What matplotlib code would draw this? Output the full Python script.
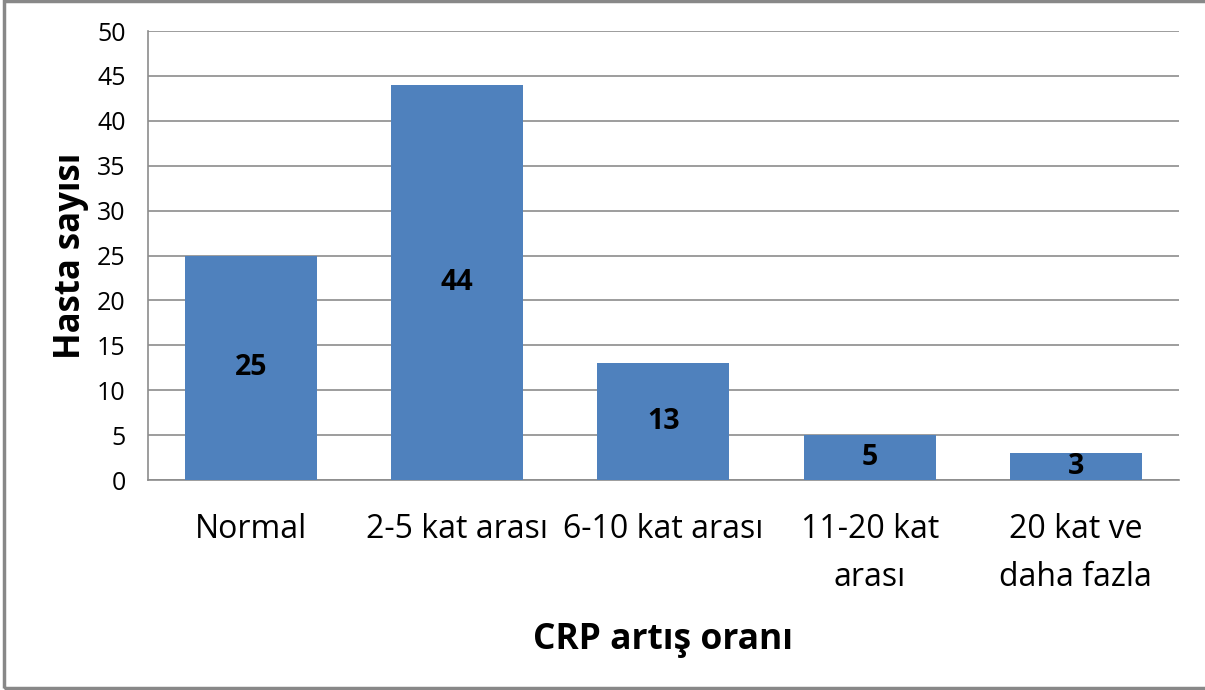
import matplotlib.pyplot as plt
from matplotlib.patches import Rectangle

# CRP artış oranı dağılımı
categories = ["Normal", "2-5 kat arası", "6-10 kat arası", "11-20 kat\narası", "20 kat ve\ndaha fazla"]
counts = [25, 44, 13, 5, 3]
yticks = [0, 5, 10, 15, 20, 25, 30, 35, 40, 45, 50]

plt.rcParams['font.family'] = ['Open Sans', 'DejaVu Sans']

fig = plt.figure(figsize=(12.05, 6.9), dpi=100)
ax = fig.add_axes([0.1228, 0.3043, 0.8556, 0.6507])

x = range(len(categories))
bars = ax.bar(x, counts, width=0.64, color='#4F81BD', zorder=3)

for b, v in zip(bars, counts):
    ax.text(b.get_x() + b.get_width() / 2, v / 2, str(v), ha='center', va='center',
            fontsize=20.5, fontweight='bold', color='black', zorder=4)

ax.set_xlim(-0.5, len(categories) - 0.5)
ax.set_ylim(0, 50)
ax.set_yticks(yticks)
ax.set_yticklabels([str(t) for t in yticks], fontsize=18)
ax.set_xticks(list(x))
ax.set_xticklabels(categories, fontsize=23, linespacing=1.6, va='top')
ax.tick_params(axis='x', length=0, pad=24)
ax.tick_params(axis='y', length=0, pad=16)

ax.yaxis.grid(True, color='#8c8c8c', linewidth=1.2, zorder=0)
for s in ['top', 'right']:
    ax.spines[s].set_visible(False)
ax.spines['left'].set_color('#8c8c8c')
ax.spines['bottom'].set_color('#8c8c8c')
ax.spines['left'].set_linewidth(1.2)
ax.spines['bottom'].set_linewidth(1.2)

ax.set_xlabel("CRP artış oranı", fontsize=25.5, fontweight='bold', labelpad=20)
ax.set_ylabel("Hasta sayısı", fontsize=25, fontweight='bold', labelpad=6)

# chart border
fig.patches.append(Rectangle((0.0033, 0.0025), 1.2, 0.9955, transform=fig.transFigure,
                             fill=False, edgecolor='#888888', linewidth=2.5))

fig.savefig("out.png", dpi=100)
